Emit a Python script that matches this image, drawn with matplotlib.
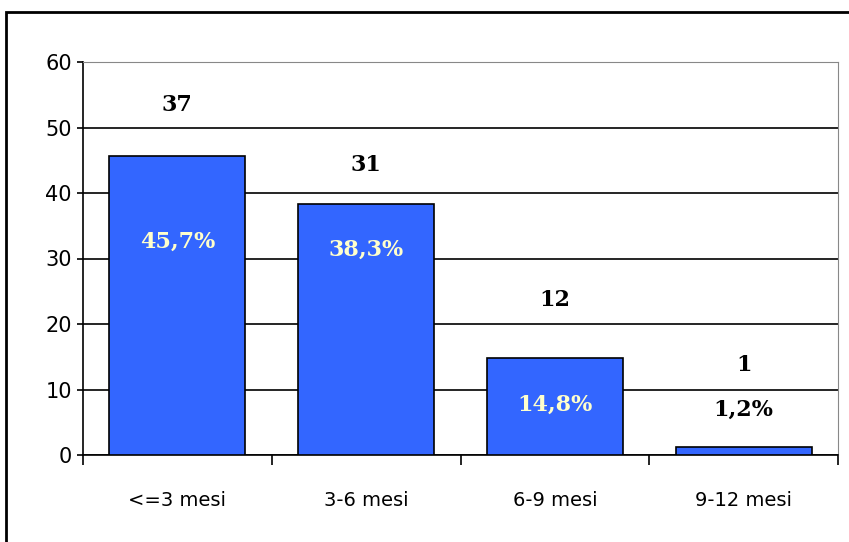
import numpy as np
import matplotlib.pyplot as plt
from matplotlib.patches import Rectangle

categories = ['<=3 mesi', '3-6 mesi', '6-9 mesi', '9-12 mesi']
percent = [45.7, 38.3, 14.8, 1.2]
counts = [37, 31, 12, 1]
pct_labels = ['45,7%', '38,3%', '14,8%', '1,2%']

# label placement (data units)
count_y = [53.4, 44.3, 23.7, 13.7]
pct_y = [32.5, 31.3, 7.6, 6.9]
pct_colors = ['#FFFFCC', '#FFFFCC', '#FFFFCC', 'black']

fig = plt.figure(figsize=(8.49, 5.42), dpi=100)
ax = fig.add_axes([83 / 849, 1 - 455 / 542, (838 - 83) / 849, (455 - 62) / 542])

x = np.arange(len(categories))
ax.bar(x, percent, width=0.72, color='#3366FF', edgecolor='black', linewidth=1.2, zorder=3)

ax.set_xlim(-0.5, len(categories) - 0.5)
ax.set_ylim(0, 60)
ax.set_yticks(range(0, 61, 10))
ax.yaxis.grid(True, color='black', linewidth=1.2, zorder=0)
ax.tick_params(axis='y', labelsize=15, length=4, width=1.2, direction='out', pad=4)

ax.set_xticks(x)
ax.set_xticklabels(categories, fontsize=14)
ax.set_xticks(np.arange(-0.5, len(categories)), minor=True)
ax.tick_params(axis='x', which='major', length=0, pad=26)
ax.tick_params(axis='x', which='minor', length=7, width=1.2, direction='out')

ax.spines['left'].set_linewidth(1.2)
ax.spines['bottom'].set_linewidth(1.2)
ax.spines['top'].set_color('#888888')
ax.spines['right'].set_color('#888888')

for i in range(len(categories)):
    ax.text(x[i], count_y[i], str(counts[i]), ha='center', va='center',
            fontsize=16, fontweight='bold', family='DejaVu Serif', zorder=4)
    ax.text(x[i], pct_y[i], pct_labels[i], ha='center', va='center',
            fontsize=16, fontweight='bold', family='DejaVu Serif',
            color=pct_colors[i], zorder=4)

# outer frame of the chart (left and top edges visible)
fig.patches.append(Rectangle((6 / 849, -0.05), 1.1, 1 - 12 / 542 + 0.05,
                             transform=fig.transFigure, fill=False,
                             edgecolor='black', linewidth=2))

fig.savefig('out.png', dpi=100)
